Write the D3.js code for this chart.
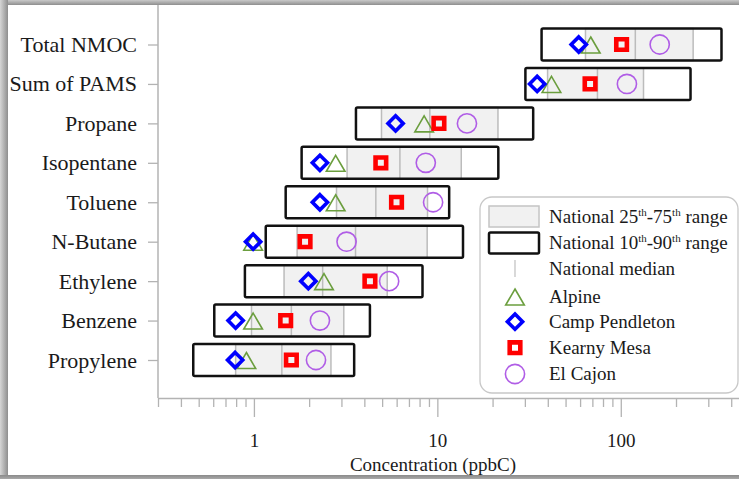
<!DOCTYPE html>
<html>
<head>
<meta charset="utf-8">
<script src="https://cdn.jsdelivr.net/npm/d3@7"></script>
<style>
  html, body { margin: 0; padding: 0; background: #ffffff; overflow: hidden; }
  svg { display: block; font-family: "Liberation Serif", "Times New Roman", serif; }
</style>
</head>
<body>
<svg id="chart" width="739" height="479"></svg>
<script>
// Compounds, top to bottom
const categories = ["Total NMOC", "Sum of PAMS", "Propane", "Isopentane", "Toluene",
                    "N-Butane", "Ethylene", "Benzene", "Propylene"];

// National distribution (ppbC)
const p10    = [37,   30.2, 3.6,  1.82, 1.49, 1.16, 0.893, 0.608, 0.467];
const p25    = [64.2, 39.9, 4.96, 3.22, 2.82, 1.72, 1.46,  0.97,  0.795];
const median = [120,  74.6, 9.1,  6.25, 4.62, 3.58, 2.37,  1.60,  1.42];
const p75    = [248,  133,  21.4, 13.5, 8.84, 8.8,  5.33,  3.09,  2.63];
const p90    = [354,  240,  33.3, 21.5, 11.6, 13.8, 8.3,   4.29,  3.52];

// Site averages (ppbC)
const alpine         = [68.6, 41.9, 8.47, 2.79, 2.79, 0.99, 2.41, 0.99,  0.91];
const campPendleton  = [59.0, 35.0, 5.92, 2.29, 2.29, 0.99, 1.98, 0.795, 0.79];
const kearnyMesa     = [101,  68.0, 10.2, 4.92, 5.99, 1.90, 4.29, 1.49,  1.60];
const elCajon        = [163,  108,  14.5, 8.65, 9.48, 3.20, 5.46, 2.29,  2.18];

// Log axis ticks
const majorTicks = [1, 10, 100];
const allTicks = [0.3, 0.4, 0.5, 0.6, 0.7, 0.8, 0.9, 1, 2, 3, 4, 5, 6, 7, 8, 9,
                  10, 20, 30, 40, 50, 60, 70, 80, 90, 100, 200, 300, 400];

const svg = d3.select("#chart");

// Card edges shaded with gradients
const defs = svg.append("defs");
function grad(id, x1, y1, x2, y2, c1, c2) {
  const gr = defs.append("linearGradient").attr("id", id)
    .attr("x1", x1).attr("y1", y1).attr("x2", x2).attr("y2", y2);
  gr.append("stop").attr("offset", "0%").attr("stop-color", c1);
  gr.append("stop").attr("offset", "100%").attr("stop-color", c2);
}
grad("shTop", 0, 0, 0, 1, "#c9c9c9", "#8e8e8e");
grad("shLeft", 0, 0, 1, 0, "#d6d6d6", "#8e8e8e");
grad("shBottom", 0, 0, 0, 1, "#8a8a8a", "#a8a8a8");
svg.append("rect").attr("x", 0).attr("y", 0).attr("width", 739).attr("height", 479).attr("fill", "#ffffff");
svg.append("rect").attr("x", 0).attr("y", 0).attr("width", 739).attr("height", 5).attr("fill", "url(#shTop)");
svg.append("rect").attr("x", 0).attr("y", 0).attr("width", 8).attr("height", 479).attr("fill", "url(#shLeft)");
svg.append("rect").attr("x", 0).attr("y", 475).attr("width", 739).attr("height", 4).attr("fill", "url(#shBottom)");

const x = d3.scaleLog().domain([0.3, 500]).range([158, 749]);
const y = d3.scalePoint().domain(categories).range([44.5, 360]);
const boxH = 32;
const axisY = 398;
const axisColor = "#b3b3b3";
const serif = "Liberation Serif, Times New Roman, serif";

const rows = categories.map((c, i) => ({
  name: c, p10: p10[i], p25: p25[i], median: median[i], p75: p75[i], p90: p90[i],
  sites: [
    { key: "alpine", v: alpine[i] },
    { key: "camp", v: campPendleton[i] },
    { key: "kearny", v: kearnyMesa[i] },
    { key: "elcajon", v: elCajon[i] }
  ]
}));

// Y axis
const yAxis = d3.axisLeft(y).tickSize(10).tickPadding(11).tickSizeOuter(0);
const gy = svg.append("g").attr("transform", "translate(158,0)").call(yAxis);
gy.select(".domain").remove();
gy.selectAll(".tick line").attr("stroke", axisColor).attr("stroke-width", 1.3);
gy.selectAll(".tick text").attr("font-size", 22).attr("fill", "#1a1a1a")
  .attr("font-family", serif);
svg.append("line").attr("x1", 158).attr("x2", 158).attr("y1", 5).attr("y2", axisY)
  .attr("stroke", axisColor).attr("stroke-width", 1.5);

// X axis
const xAxis = d3.axisBottom(x).tickValues(allTicks).tickSizeOuter(0)
  .tickFormat(d => majorTicks.includes(d) ? d3.format("d")(d) : "");
const gx = svg.append("g").attr("transform", `translate(0,${axisY})`).call(xAxis);
gx.select(".domain").attr("stroke", axisColor).attr("stroke-width", 1.5);
gx.selectAll(".tick line").attr("stroke", axisColor).attr("stroke-width", 1.3)
  .attr("y2", d => majorTicks.includes(d) ? 19 : 9);
gx.selectAll(".tick text").attr("font-size", 19).attr("fill", "#1a1a1a")
  .attr("font-family", serif)
  .attr("y", 49).attr("dy", 0);

svg.append("text").attr("x", 433).attr("y", 471).attr("text-anchor", "middle")
  .attr("font-size", 19).attr("fill", "#1a1a1a").text("Concentration (ppbC)");

// Marker shapes
const markerStyle = {
  alpine:  { d: "M0,-7.5L9.3,8.5L-9.3,8.5Z", stroke: "#6b9e3e", sw: 1.6 },
  camp:    { d: "M0,-7.6L7.6,0L0,7.6L-7.6,0Z", stroke: "#0000ff", sw: 3.6 },
  kearny:  { d: "M-5.3,-5.3H5.3V5.3H-5.3Z", stroke: "#ff0000", sw: 4.6 },
  elcajon: { d: d3.arc()({ innerRadius: 0, outerRadius: 9.6, startAngle: 0, endAngle: 2 * Math.PI }),
             stroke: "#b05de6", sw: 1.6 }
};

const g = svg.append("g");
const row = g.selectAll("g.row").data(rows).join("g").attr("class", "row")
  .attr("transform", d => `translate(0,${y(d.name)})`);

row.append("rect").attr("x", d => x(d.p10)).attr("y", -boxH / 2)
  .attr("width", d => x(d.p90) - x(d.p10)).attr("height", boxH).attr("fill", "#ffffff");
row.append("rect").attr("x", d => x(d.p25)).attr("y", -boxH / 2)
  .attr("width", d => x(d.p75) - x(d.p25)).attr("height", boxH)
  .attr("fill", "#f1f1f1").attr("stroke", "#bcbcbc").attr("stroke-width", 1.5);
row.append("line").attr("x1", d => x(d.median)).attr("x2", d => x(d.median))
  .attr("y1", -boxH / 2).attr("y2", boxH / 2).attr("stroke", "#bcbcbc").attr("stroke-width", 1.5);
row.append("rect").attr("x", d => x(d.p10)).attr("y", -boxH / 2)
  .attr("width", d => x(d.p90) - x(d.p10)).attr("height", boxH).attr("rx", 1.5)
  .attr("fill", "none").attr("stroke", "#111").attr("stroke-width", 2.5);

row.selectAll("path.site").data(d => d.sites).join("path").attr("class", "site")
  .attr("d", s => markerStyle[s.key].d)
  .attr("transform", s => `translate(${x(s.v)},0)`)
  .attr("fill", "none")
  .attr("stroke", s => markerStyle[s.key].stroke)
  .attr("stroke-width", s => markerStyle[s.key].sw);

// Legend
const lg = svg.append("g");
lg.append("rect").attr("x", 480).attr("y", 197).attr("width", 258).attr("height", 196)
  .attr("rx", 12).attr("fill", "#ffffff").attr("stroke", "#c8c8c8").attr("stroke-width", 1.3);
lg.append("rect").attr("x", 489).attr("y", 206).attr("width", 50).attr("height", 21)
  .attr("fill", "#f1f1f1").attr("stroke", "#c4c4c4").attr("stroke-width", 1.5);
lg.append("rect").attr("x", 489).attr("y", 232.5).attr("width", 50).attr("height", 21)
  .attr("rx", 1.5).attr("fill", "#ffffff").attr("stroke", "#111").attr("stroke-width", 2.5);
lg.append("line").attr("x1", 515).attr("x2", 515).attr("y1", 260).attr("y2", 277)
  .attr("stroke", "#c4c4c4").attr("stroke-width", 1.3);

const legendMarkers = [
  { key: "alpine", label: "Alpine", cy: 296.5 },
  { key: "camp", label: "Camp Pendleton", cy: 321.7 },
  { key: "kearny", label: "Kearny Mesa", cy: 347.7 },
  { key: "elcajon", label: "El Cajon", cy: 374 }
];
lg.selectAll("path.lm").data(legendMarkers).join("path").attr("class", "lm")
  .attr("d", d => markerStyle[d.key].d)
  .attr("transform", d => `translate(515,${d.cy})`)
  .attr("fill", "none")
  .attr("stroke", d => markerStyle[d.key].stroke)
  .attr("stroke-width", d => markerStyle[d.key].sw);

const tx = 549;
function rangeLabel(yb, lo, hi) {
  const t = lg.append("text").attr("x", tx).attr("y", yb).attr("font-size", 19).attr("fill", "#1a1a1a");
  t.append("tspan").text("National " + lo);
  t.append("tspan").attr("font-size", 11).attr("dy", -7).text("th");
  t.append("tspan").attr("dy", 7).text("-" + hi);
  t.append("tspan").attr("font-size", 11).attr("dy", -7).text("th");
  t.append("tspan").attr("dy", 7).text(" range");
}
rangeLabel(222.5, "25", "75");
rangeLabel(248.5, "10", "90");
const plain = [
  { label: "National median", y: 274.5 },
  ...legendMarkers.map(d => ({ label: d.label, y: d.cy + 6.3 }))
];
lg.selectAll("text.pl").data(plain).join("text").attr("class", "pl")
  .attr("x", tx).attr("y", d => d.y).attr("font-size", 19).attr("fill", "#1a1a1a")
  .text(d => d.label);
</script>
</body>
</html>
